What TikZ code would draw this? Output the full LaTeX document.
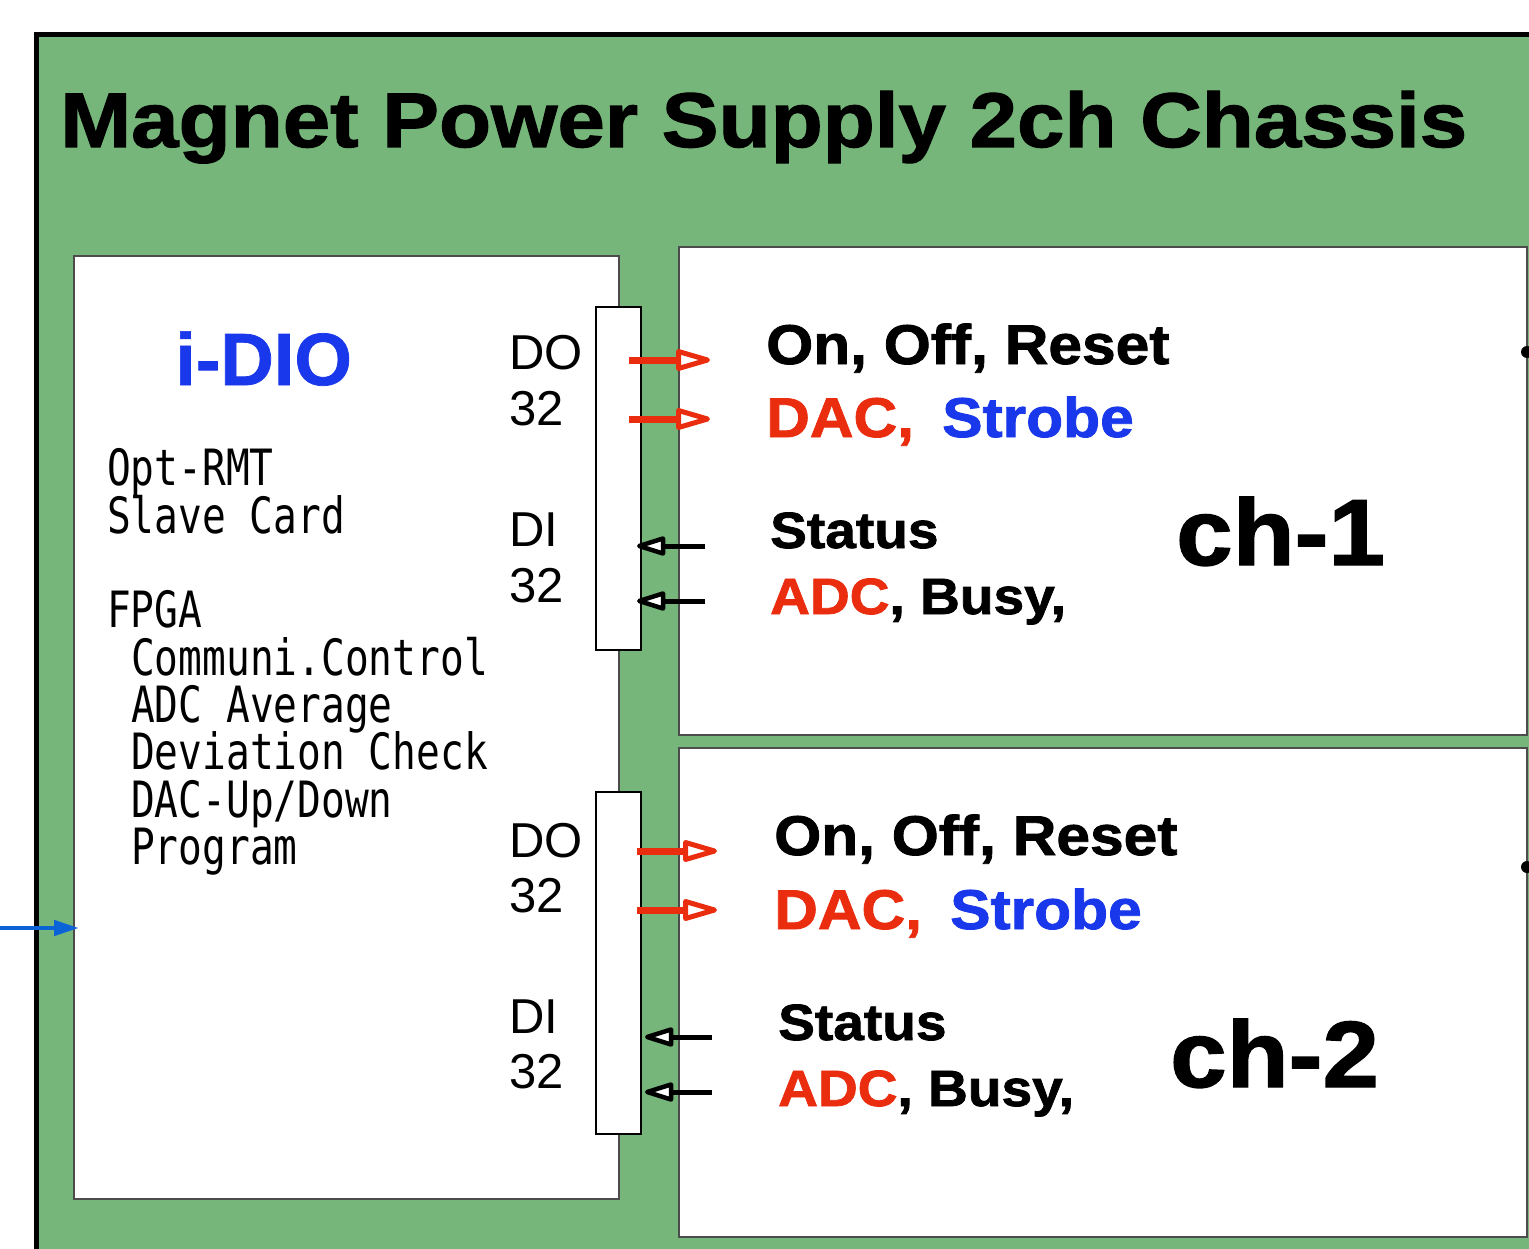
\documentclass[tikz,border=0pt]{standalone}
\usepackage{fontspec}
\setmainfont{Liberation Sans}
\newfontfamily\gothicmono[FakeStretch=0.79]{DejaVu Sans Mono}
\newfontfamily\heavy[FakeStretch=1.08, FakeBold=1.5]{Liberation Sans Bold}
\newfontfamily\heavytitle[FakeStretch=1.1, FakeBold=1.5]{Liberation Sans Bold}
\newfontfamily\idiofont[FakeBold=1]{Liberation Sans Bold}
\usetikzlibrary{arrows.meta}
\definecolor{chgreen}{RGB}{118,182,122}
\definecolor{sigred}{RGB}{235,45,15}
\definecolor{sigblue}{RGB}{25,55,235}
\definecolor{linkblue}{RGB}{10,100,215}
\tikzset{
  panel/.style={draw=black!70, line width=1.5pt, fill=white, anchor=north west, inner sep=0pt, outer sep=0pt},
  connbox/.style={draw=black, line width=2.5pt, fill=white, anchor=north west, inner sep=0pt, outer sep=0pt},
  txt/.style={inner sep=0pt, anchor=base west},
  outsig/.style={draw=sigred, line width=7pt},
  insig/.style={draw=black, line width=5pt},
  redhead/.pic={\draw[sigred, line width=5pt, line join=round, fill=white] (-2.5,0) -- (-31.5,-8.5) -- (-31.5,8.5) -- cycle;},
  blackhead/.pic={\draw[black, line width=4.5pt, line join=round, fill=white] (2.2,0) -- (26,-7.5) -- (26,7.5) -- cycle;},
  mono/.style={txt, font=\gothicmono\fontsize{50}{50}\selectfont},
  iolbl/.style={txt, font=\fontsize{49}{49}\selectfont},
  sigbig/.style={txt, font=\heavy\fontsize{56}{56}\selectfont},
  sigmid/.style={txt, font=\heavy\fontsize{51}{51}\selectfont},
  chlbl/.style={txt, font=\heavy\fontsize{94}{94}\selectfont},
}
\begin{document}
\begin{tikzpicture}[x=1pt, y=-1pt]
\useasboundingbox (0,0) rectangle (1529,1249);
\fill[white] (0,0) rectangle (1529,1249);
% chassis
\node[draw=black, line width=5pt, fill=chgreen, anchor=north west, inner sep=0pt, outer sep=0pt,
      minimum width=1560pt, minimum height=1280pt] (chassis) at (36,35) {};
\node[txt, font=\heavytitle\fontsize{77.5}{77.5}\selectfont] (title) at (60,147) {Magnet Power Supply 2ch Chassis};
% i-DIO card
\node[panel, minimum width=545pt, minimum height=943pt] (idio) at (74,256) {};
\node[txt, font=\idiofont\fontsize{74}{74}\selectfont, text=sigblue] (idiolbl) at (175,385) {i-DIO};
\node[mono] (l1) at (107,485) {Opt-RMT};
\node[mono] (l2) at (107,533) {Slave Card};
\node[mono] (l3) at (107,627) {FPGA};
\node[mono] (l4) at (131,675) {Communi.Control};
\node[mono] (l5) at (131,722) {ADC Average};
\node[mono] (l6) at (131,769) {Deviation Check};
\node[mono] (l7) at (131,817) {DAC-Up/Down};
\node[mono] (l8) at (131,864) {Program};
% connectors
\node[connbox, minimum width=45pt, minimum height=343pt] (conn1) at (596,307) {};
\node[connbox, minimum width=45pt, minimum height=342pt] (conn2) at (596,792) {};
\node[iolbl] (do1) at (509,370) {DO};
\node[iolbl] (do1n) at (509,425) {32};
\node[iolbl] (di1) at (509,546) {DI};
\node[iolbl] (di1n) at (509,602) {32};
\node[iolbl] (do2) at (509,857) {DO};
\node[iolbl] (do2n) at (509,912) {32};
\node[iolbl] (di2) at (509,1033) {DI};
\node[iolbl] (di2n) at (509,1088) {32};
% channel boxes
\node[panel, minimum width=848pt, minimum height=488pt] (ch1) at (679,247) {};
\node[panel, minimum width=848pt, minimum height=489pt] (ch2) at (679,748) {};
\fill[black] (1527,352) circle (6pt);
\fill[black] (1527,867) circle (6pt);
% ch-1 labels
\node[sigbig] (s1a) at (766,364) {On, Off, Reset};
\node[sigbig, text=sigred] (s1b) at (766,437) {DAC,};
\node[sigbig, text=sigblue] (s1c) at (942,437) {Strobe};
\node[sigmid] (s1d) at (770,548) {Status};
\node[sigmid] (s1e) at (770,614) {\textcolor{sigred}{ADC}, Busy,};
\node[chlbl] (ch1lbl) at (1176,565) {ch-1};
% ch-2 labels
\node[sigbig] (s2a) at (774,855) {On, Off, Reset};
\node[sigbig, text=sigred] (s2b) at (774,929) {DAC,};
\node[sigbig, text=sigblue] (s2c) at (950,929) {Strobe};
\node[sigmid] (s2d) at (778,1040) {Status};
\node[sigmid] (s2e) at (778,1106) {\textcolor{sigred}{ADC}, Busy,};
\node[chlbl] (ch2lbl) at (1170,1087) {ch-2};
% arrow points: s = start, b = shaft end at head base, e = tip
\coordinate (a1s) at (629,360); \coordinate (a1b) at (681,360); \coordinate (a1e) at (710,360);
\coordinate (a2s) at (629,419); \coordinate (a2b) at (681,419); \coordinate (a2e) at (710,419);
\coordinate (a3s) at (705,546); \coordinate (a3b) at (661,546); \coordinate (a3e) at (637,546);
\coordinate (a4s) at (705,601); \coordinate (a4b) at (661,601); \coordinate (a4e) at (637,601);
\coordinate (b1s) at (637,851); \coordinate (b1b) at (688,851); \coordinate (b1e) at (717,851);
\coordinate (b2s) at (637,910); \coordinate (b2b) at (688,910); \coordinate (b2e) at (717,910);
\coordinate (b3s) at (712,1037); \coordinate (b3b) at (669,1037); \coordinate (b3e) at (645,1037);
\coordinate (b4s) at (712,1092); \coordinate (b4b) at (669,1092); \coordinate (b4e) at (645,1092);
\coordinate (linkin) at (-5,928); \coordinate (linkend) at (79,928);
\draw[outsig] (a1s) -- (a1b); \pic at (a1e) {redhead};
\draw[outsig] (a2s) -- (a2b); \pic at (a2e) {redhead};
\draw[insig] (a3s) -- (a3b); \pic at (a3e) {blackhead};
\draw[insig] (a4s) -- (a4b); \pic at (a4e) {blackhead};
\draw[outsig] (b1s) -- (b1b); \pic at (b1e) {redhead};
\draw[outsig] (b2s) -- (b2b); \pic at (b2e) {redhead};
\draw[insig] (b3s) -- (b3b); \pic at (b3e) {blackhead};
\draw[insig] (b4s) -- (b4b); \pic at (b4e) {blackhead};
\draw[linkblue, line width=4.5pt, -{Triangle[length=25pt, width=15pt]}] (linkin) -- (linkend);
\end{tikzpicture}
\end{document}
